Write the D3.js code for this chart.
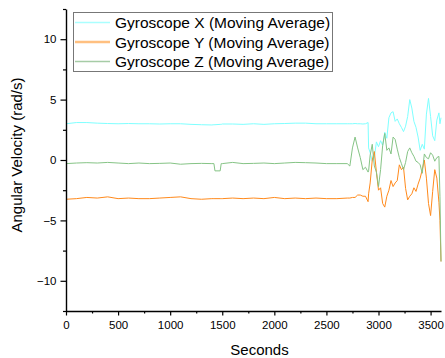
<!DOCTYPE html>
<html>
<head>
<meta charset="utf-8">
<script src="https://cdn.jsdelivr.net/npm/d3@7"></script>
<style>
  body { margin: 0; background: #fff; }
  svg text { font-family: "Liberation Sans", Arial, sans-serif; fill: #000; }
</style>
</head>
<body>
<div id="chart"></div>
<script>
// Time stamps (seconds) shared by all three series
let seconds = [0, 100, 200, 300, 400, 500, 600, 700, 800, 900, 1000, 1100, 1200, 1300, 1400,
    1420, 1430, 1480, 1490,
    1500, 1600, 1700, 1800, 1900, 2000, 2100, 2200, 2300, 2400, 2500, 2600, 2700,
    2725, 2750, 2775, 2800, 2825, 2850, 2875, 2900, 2905,
    2920, 2940, 2960, 2980, 3000, 3020, 3040, 3060, 3080, 3100,
    3120, 3140, 3160, 3180, 3200, 3220, 3240, 3260, 3280, 3300,
    3320, 3340, 3360, 3380, 3400, 3420, 3440, 3460, 3480, 3500,
    3520, 3540, 3560, 3580, 3590, 3600];

let gyroX = [3.0, 3.1, 3.1, 3.05, 3.02, 3.0, 3.02, 3.0, 3.0, 2.98, 3.0, 3.0, 2.95, 2.92, 2.9,
    2.92, 2.92, 2.95, 2.95,
    2.98, 2.98, 2.95, 3.0, 2.95, 3.0, 3.02, 3.05, 3.05, 3.0, 3.0, 3.0, 3.0,
    3.0, 3.0, 3.02, 3.0, 3.0, 2.98, 3.0, 3.1, 1.0,
    0.6, -0.1, 0.2, 1.5, 1.1, 1.6, 1.2, 2.3, 1.8, 3.5,
    3.9, 4.0, 3.2, 3.4, 3.0, 2.7, 2.35, 2.8, 3.6, 5.0,
    4.3, 3.2, 2.7, 1.9, 0.8, 1.3, 0.9, 3.8, 5.1, 3.6,
    2.0, 1.6, 3.3, 3.9, 3.0, 3.5];

let gyroY = [-3.25, -3.2, -3.1, -3.15, -3.05, -3.2, -3.15, -3.2, -3.2, -3.15, -3.1, -3.05, -3.2, -3.25, -3.2,
    -3.2, -3.2, -3.2, -3.2,
    -3.2, -3.15, -3.2, -3.15, -3.2, -3.1, -3.2, -3.15, -3.2, -3.15, -3.2, -3.2, -3.15,
    -3.15, -3.1, -3.1, -2.9, -2.9, -3.0, -3.0, -3.45, -2.8,
    -1.9, 0.0, 0.7, -1.0, -2.5, -2.3, -3.6, -3.9, -3.0, -2.5,
    -1.7, -2.2, -1.9, -1.7, -0.4, -0.8, -0.6, -2.35, -3.3, -3.0,
    -2.8, -2.3, -2.6, -2.0, -1.5, -0.8, 0.0, -1.5, -3.6, -4.6,
    -2.6, -0.8, -1.5, -3.5, -5.0, -8.4];

let gyroZ = [-0.3, -0.25, -0.22, -0.25, -0.2, -0.25, -0.3, -0.25, -0.3, -0.28, -0.25, -0.35, -0.3, -0.28, -0.3,
    -0.3, -0.9, -0.9, -0.3,
    -0.3, -0.2, -0.3, -0.28, -0.25, -0.3, -0.25, -0.2, -0.22, -0.25, -0.3, -0.3, -0.3,
    -0.5, 1.0, 1.9, 1.0, 0.2, -0.8, -0.6, -1.0, -0.9,
    0.4, 1.3, -0.5, -1.0, -2.2, -0.8, 1.2, 2.2, 0.8, 1.0,
    0.5, 1.9, 1.7, 0.9, 0.2, -0.3, -0.8, -0.2, 0.7, 1.0,
    0.6, 0.3, -0.1, -0.2, -0.4, -1.1, 0.5, 0.2, 0.1, 0.6,
    0.4, -0.1, 0.2, 0.3, -3.0, -8.4];

let seriesNames = ["Gyroscope X (Moving Average)", "Gyroscope Y (Moving Average)", "Gyroscope Z (Moving Average)"];
let seriesColors = ["#7fffff", "#ff8a1c", "#86c486"];
let legendColors = ["#aaffff", "#ffc080", "#a6cca6"];

let xTicks = [0, 500, 1000, 1500, 2000, 2500, 3000, 3500];
let yTicks = [-10, -5, 0, 5, 10];

let width = 445, height = 358;
let margin = {left: 66, right: 4, top: 9, bottom: 47};

let svg = d3.select("#chart")
    .append("svg")
    .attr("width", width)
    .attr("height", height);

let x = d3.scaleLinear()
    .domain([0, 3600])
    .range([margin.left, width - margin.right]);

let y = d3.scaleLinear()
    .domain([-12.5, 12.5])
    .range([height - margin.bottom, margin.top]);

// Lines first, axes drawn over them
let allSeries = [gyroX, gyroY, gyroZ];
let line = d3.line()
    .x(function(d) { return x(d[0]); })
    .y(function(d) { return y(d[1]); });

allSeries.forEach(function(vals, i) {
    let pts = seconds.map(function(t, j) { return [t, vals[j]]; });
    svg.append("path")
        .datum(pts)
        .attr("fill", "none")
        .attr("stroke", seriesColors[i])
        .attr("stroke-width", 1)
        .attr("d", line);
});

// Minor ticks
let xMinor = d3.range(250, 3600, 500);
let yMinor = [-12.5, -7.5, -2.5, 2.5, 7.5, 12.5];

svg.append("g")
    .attr("transform", `translate(0, ${height - margin.bottom})`)
    .call(d3.axisBottom(x).tickValues(xMinor).tickFormat("").tickSize(2.5).tickSizeOuter(0))
    .call(function(g) { g.select(".domain").remove(); });

svg.append("g")
    .attr("transform", `translate(${margin.left}, 0)`)
    .call(d3.axisLeft(y).tickValues(yMinor).tickFormat("").tickSize(3).tickSizeOuter(0))
    .call(function(g) { g.select(".domain").remove(); });

// Major axes
let xAxis = svg.append("g")
    .attr("transform", `translate(0, ${height - margin.bottom})`)
    .call(d3.axisBottom(x).tickValues(xTicks).tickFormat(d3.format("d"))
        .tickSize(4.5).tickSizeOuter(0).tickPadding(5));

let yAxis = svg.append("g")
    .attr("transform", `translate(${margin.left}, 0)`)
    .call(d3.axisLeft(y).tickValues(yTicks).tickFormat(d3.format("d"))
        .tickSize(5.5).tickSizeOuter(0).tickPadding(4));

[xAxis, yAxis].forEach(function(g) {
    g.selectAll("text").style("font-size", "11.5px").attr("fill", "#000");
    g.select(".domain").attr("stroke", "#000").attr("stroke-width", 1.4);
});
svg.selectAll("g.tick line").attr("stroke", "#000").attr("stroke-width", 1.2);

// Axis titles
svg.append("text")
    .attr("x", (margin.left + width - margin.right) / 2 + 6)
    .attr("y", 355)
    .style("text-anchor", "middle")
    .style("font-size", "15px")
    .text("Seconds");

svg.append("text")
    .attr("transform", `translate(22, 155) rotate(-90)`)
    .style("text-anchor", "middle")
    .style("font-size", "15px")
    .text("Angular Velocity (rad/s)");

// Legend
let legend = svg.append("g");
legend.append("rect")
    .attr("x", 73.5)
    .attr("y", 12.5)
    .attr("width", 259)
    .attr("height", 59)
    .attr("fill", "#fff")
    .attr("stroke", "#777")
    .attr("stroke-width", 1);

seriesNames.forEach(function(name, i) {
    let rowY = 22.5 + i * 19.5;
    legend.append("line")
        .attr("x1", 75)
        .attr("x2", 110)
        .attr("y1", rowY)
        .attr("y2", rowY)
        .attr("stroke", legendColors[i])
        .attr("stroke-width", i === 1 ? 2.5 : 1.5);
    legend.append("text")
        .attr("x", 115)
        .attr("y", rowY + 5.5)
        .style("font-size", "15.5px")
        .text(name);
});
</script>
</body>
</html>
